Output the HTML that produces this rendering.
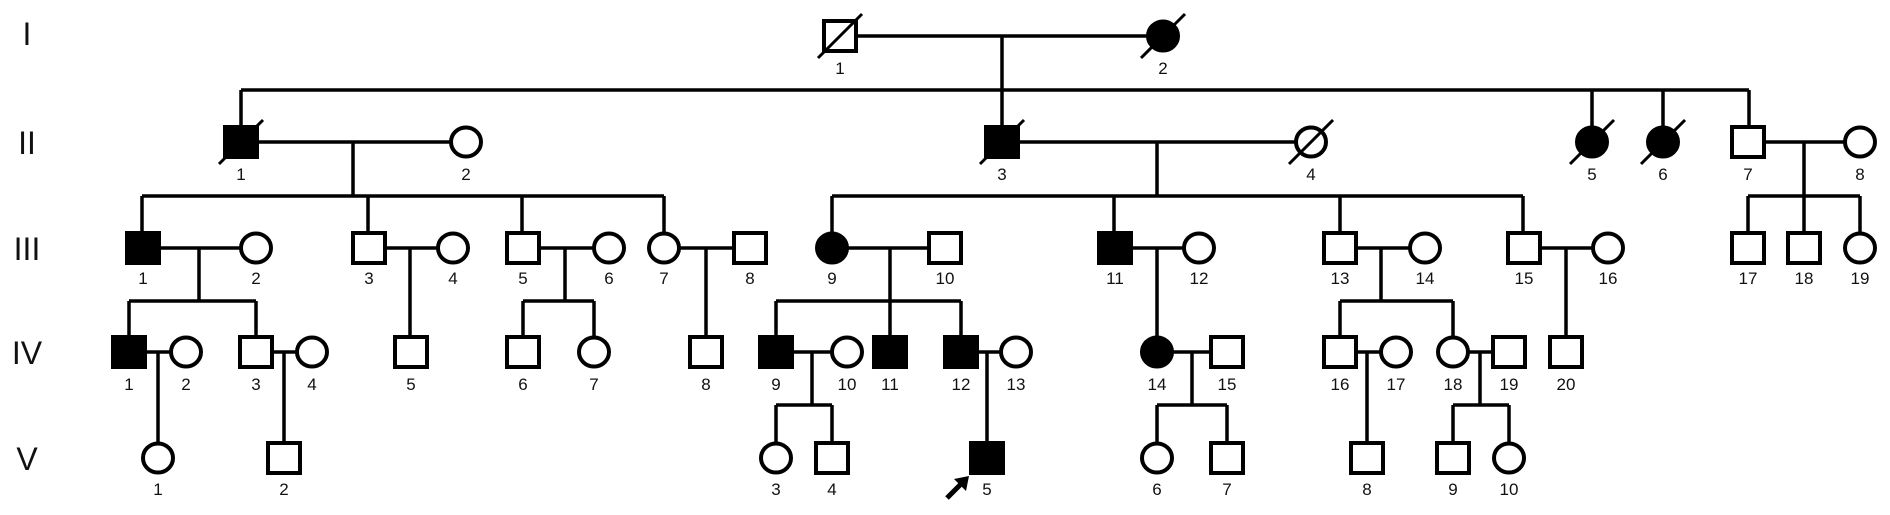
<!DOCTYPE html>
<html><head><meta charset="utf-8"><style>
html,body{margin:0;padding:0;background:#fff}
svg{display:block}
text{font-family:"Liberation Sans",Arial,sans-serif;fill:#111}
.n{font-size:17px;text-anchor:middle}
.g{font-size:32px;text-anchor:middle}
</style></head><body>
<svg width="1890" height="515" viewBox="0 0 1890 515" xmlns="http://www.w3.org/2000/svg">
<g stroke="#000" stroke-width="3.5" fill="none">
<line x1="840" y1="36" x2="1163" y2="36"/>
<line x1="1002" y1="36" x2="1002" y2="142"/>
<line x1="241" y1="90" x2="1749" y2="90"/>
<line x1="241" y1="90" x2="241" y2="142"/>
<line x1="1592" y1="90" x2="1592" y2="142"/>
<line x1="1663" y1="90" x2="1663" y2="142"/>
<line x1="1749" y1="90" x2="1749" y2="142"/>
<line x1="241" y1="142" x2="466" y2="142"/>
<line x1="353" y1="142" x2="353" y2="196"/>
<line x1="1002" y1="142" x2="1311" y2="142"/>
<line x1="1157" y1="142" x2="1157" y2="196"/>
<line x1="1748" y1="142" x2="1860" y2="142"/>
<line x1="1804" y1="142" x2="1804" y2="196"/>
<line x1="142" y1="196" x2="664" y2="196"/>
<line x1="142" y1="196" x2="142" y2="248"/>
<line x1="368" y1="196" x2="368" y2="248"/>
<line x1="522" y1="196" x2="522" y2="248"/>
<line x1="664" y1="196" x2="664" y2="248"/>
<line x1="832" y1="196" x2="1523" y2="196"/>
<line x1="832" y1="196" x2="832" y2="248"/>
<line x1="1114" y1="196" x2="1114" y2="248"/>
<line x1="1340" y1="196" x2="1340" y2="248"/>
<line x1="1523" y1="196" x2="1523" y2="248"/>
<line x1="1748" y1="196" x2="1860" y2="196"/>
<line x1="1748" y1="196" x2="1748" y2="248"/>
<line x1="1804" y1="196" x2="1804" y2="248"/>
<line x1="1860" y1="196" x2="1860" y2="248"/>
<line x1="143" y1="248" x2="256" y2="248"/>
<line x1="199" y1="248" x2="199" y2="301"/>
<line x1="369" y1="248" x2="453" y2="248"/>
<line x1="410" y1="248" x2="410" y2="352"/>
<line x1="523" y1="248" x2="609" y2="248"/>
<line x1="565" y1="248" x2="565" y2="301"/>
<line x1="664" y1="248" x2="750" y2="248"/>
<line x1="706" y1="248" x2="706" y2="352"/>
<line x1="832" y1="248" x2="945" y2="248"/>
<line x1="890" y1="248" x2="890" y2="301"/>
<line x1="1115" y1="248" x2="1199" y2="248"/>
<line x1="1157" y1="248" x2="1157" y2="352"/>
<line x1="1340" y1="248" x2="1425" y2="248"/>
<line x1="1381" y1="248" x2="1381" y2="301"/>
<line x1="1524" y1="248" x2="1608" y2="248"/>
<line x1="1566" y1="248" x2="1566" y2="352"/>
<line x1="129" y1="301" x2="256" y2="301"/>
<line x1="129" y1="301" x2="129" y2="352"/>
<line x1="256" y1="301" x2="256" y2="352"/>
<line x1="523" y1="301" x2="594" y2="301"/>
<line x1="523" y1="301" x2="523" y2="352"/>
<line x1="594" y1="301" x2="594" y2="352"/>
<line x1="776" y1="301" x2="961" y2="301"/>
<line x1="776" y1="301" x2="776" y2="352"/>
<line x1="890" y1="301" x2="890" y2="352"/>
<line x1="961" y1="301" x2="961" y2="352"/>
<line x1="1340" y1="301" x2="1453" y2="301"/>
<line x1="1340" y1="301" x2="1340" y2="352"/>
<line x1="1453" y1="301" x2="1453" y2="352"/>
<line x1="129" y1="352" x2="186" y2="352"/>
<line x1="158" y1="352" x2="158" y2="458"/>
<line x1="256" y1="352" x2="312" y2="352"/>
<line x1="284" y1="352" x2="284" y2="458"/>
<line x1="776" y1="352" x2="847" y2="352"/>
<line x1="812" y1="352" x2="812" y2="405"/>
<line x1="961" y1="352" x2="1016" y2="352"/>
<line x1="987" y1="352" x2="987" y2="458"/>
<line x1="1157" y1="352" x2="1227" y2="352"/>
<line x1="1192" y1="352" x2="1192" y2="405"/>
<line x1="1340" y1="352" x2="1396" y2="352"/>
<line x1="1367" y1="352" x2="1367" y2="458"/>
<line x1="1453" y1="352" x2="1509" y2="352"/>
<line x1="1480" y1="352" x2="1480" y2="405"/>
<line x1="776" y1="405" x2="832" y2="405"/>
<line x1="776" y1="405" x2="776" y2="458"/>
<line x1="832" y1="405" x2="832" y2="458"/>
<line x1="1157" y1="405" x2="1227" y2="405"/>
<line x1="1157" y1="405" x2="1157" y2="458"/>
<line x1="1227" y1="405" x2="1227" y2="458"/>
<line x1="1453" y1="405" x2="1509" y2="405"/>
<line x1="1453" y1="405" x2="1453" y2="458"/>
<line x1="1509" y1="405" x2="1509" y2="458"/>
</g>
<g stroke="#000" stroke-width="4" fill="#fff">
<rect x="824" y="21" width="32" height="30"/>
<ellipse cx="1163" cy="36" rx="15" ry="14.5" fill="#000"/>
<rect x="225" y="127" width="32" height="30" fill="#000"/>
<ellipse cx="466" cy="142" rx="15" ry="14.5"/>
<rect x="986" y="127" width="32" height="30" fill="#000"/>
<ellipse cx="1311" cy="142" rx="15" ry="14.5"/>
<ellipse cx="1592" cy="142" rx="15" ry="14.5" fill="#000"/>
<ellipse cx="1663" cy="142" rx="15" ry="14.5" fill="#000"/>
<rect x="1732" y="127" width="32" height="30"/>
<ellipse cx="1860" cy="142" rx="15" ry="14.5"/>
<rect x="127" y="233" width="32" height="30" fill="#000"/>
<ellipse cx="256" cy="248" rx="15" ry="14.5"/>
<rect x="353" y="233" width="32" height="30"/>
<ellipse cx="453" cy="248" rx="15" ry="14.5"/>
<rect x="507" y="233" width="32" height="30"/>
<ellipse cx="609" cy="248" rx="15" ry="14.5"/>
<ellipse cx="664" cy="248" rx="15" ry="14.5"/>
<rect x="734" y="233" width="32" height="30"/>
<ellipse cx="832" cy="248" rx="15" ry="14.5" fill="#000"/>
<rect x="929" y="233" width="32" height="30"/>
<rect x="1099" y="233" width="32" height="30" fill="#000"/>
<ellipse cx="1199" cy="248" rx="15" ry="14.5"/>
<rect x="1324" y="233" width="32" height="30"/>
<ellipse cx="1425" cy="248" rx="15" ry="14.5"/>
<rect x="1508" y="233" width="32" height="30"/>
<ellipse cx="1608" cy="248" rx="15" ry="14.5"/>
<rect x="1732" y="233" width="32" height="30"/>
<rect x="1788" y="233" width="32" height="30"/>
<ellipse cx="1860" cy="248" rx="15" ry="14.5"/>
<rect x="113" y="337" width="32" height="30" fill="#000"/>
<ellipse cx="186" cy="352" rx="15" ry="14.5"/>
<rect x="240" y="337" width="32" height="30"/>
<ellipse cx="312" cy="352" rx="15" ry="14.5"/>
<rect x="395" y="337" width="32" height="30"/>
<rect x="507" y="337" width="32" height="30"/>
<ellipse cx="594" cy="352" rx="15" ry="14.5"/>
<rect x="690" y="337" width="32" height="30"/>
<rect x="760" y="337" width="32" height="30" fill="#000"/>
<ellipse cx="847" cy="352" rx="15" ry="14.5"/>
<rect x="874" y="337" width="32" height="30" fill="#000"/>
<rect x="945" y="337" width="32" height="30" fill="#000"/>
<ellipse cx="1016" cy="352" rx="15" ry="14.5"/>
<ellipse cx="1157" cy="352" rx="15" ry="14.5" fill="#000"/>
<rect x="1211" y="337" width="32" height="30"/>
<rect x="1324" y="337" width="32" height="30"/>
<ellipse cx="1396" cy="352" rx="15" ry="14.5"/>
<ellipse cx="1453" cy="352" rx="15" ry="14.5"/>
<rect x="1493" y="337" width="32" height="30"/>
<rect x="1550" y="337" width="32" height="30"/>
<ellipse cx="158" cy="458" rx="15" ry="14.5"/>
<rect x="268" y="443" width="32" height="30"/>
<ellipse cx="776" cy="458" rx="15" ry="14.5"/>
<rect x="816" y="443" width="32" height="30"/>
<rect x="971" y="443" width="32" height="30" fill="#000"/>
<ellipse cx="1157" cy="458" rx="15" ry="14.5"/>
<rect x="1211" y="443" width="32" height="30"/>
<rect x="1351" y="443" width="32" height="30"/>
<rect x="1437" y="443" width="32" height="30"/>
<ellipse cx="1509" cy="458" rx="15" ry="14.5"/>
</g>
<g stroke="#000" stroke-width="3">
<line x1="818" y1="58" x2="862" y2="14"/>
<line x1="1141" y1="58" x2="1185" y2="14"/>
<line x1="219" y1="164" x2="263" y2="120"/>
<line x1="980" y1="164" x2="1024" y2="120"/>
<line x1="1289" y1="164" x2="1333" y2="120"/>
<line x1="1570" y1="164" x2="1614" y2="120"/>
<line x1="1641" y1="164" x2="1685" y2="120"/>
</g>
<line x1="947" y1="498" x2="962" y2="483" stroke="#000" stroke-width="5"/>
<polygon points="969,476 954,479 966,491" fill="#000"/>
<text class="g" x="27" y="45">I</text>
<text class="g" x="27" y="154">II</text>
<text class="g" x="27" y="260">III</text>
<text class="g" x="27" y="364">IV</text>
<text class="g" x="27" y="470">V</text>
<text class="n" x="840" y="74">1</text>
<text class="n" x="1163" y="74">2</text>
<text class="n" x="241" y="180">1</text>
<text class="n" x="466" y="180">2</text>
<text class="n" x="1002" y="180">3</text>
<text class="n" x="1311" y="180">4</text>
<text class="n" x="1592" y="180">5</text>
<text class="n" x="1663" y="180">6</text>
<text class="n" x="1748" y="180">7</text>
<text class="n" x="1860" y="180">8</text>
<text class="n" x="143" y="284">1</text>
<text class="n" x="256" y="284">2</text>
<text class="n" x="369" y="284">3</text>
<text class="n" x="453" y="284">4</text>
<text class="n" x="523" y="284">5</text>
<text class="n" x="609" y="284">6</text>
<text class="n" x="664" y="284">7</text>
<text class="n" x="750" y="284">8</text>
<text class="n" x="832" y="284">9</text>
<text class="n" x="945" y="284">10</text>
<text class="n" x="1115" y="284">11</text>
<text class="n" x="1199" y="284">12</text>
<text class="n" x="1340" y="284">13</text>
<text class="n" x="1425" y="284">14</text>
<text class="n" x="1524" y="284">15</text>
<text class="n" x="1608" y="284">16</text>
<text class="n" x="1748" y="284">17</text>
<text class="n" x="1804" y="284">18</text>
<text class="n" x="1860" y="284">19</text>
<text class="n" x="129" y="390">1</text>
<text class="n" x="186" y="390">2</text>
<text class="n" x="256" y="390">3</text>
<text class="n" x="312" y="390">4</text>
<text class="n" x="411" y="390">5</text>
<text class="n" x="523" y="390">6</text>
<text class="n" x="594" y="390">7</text>
<text class="n" x="706" y="390">8</text>
<text class="n" x="776" y="390">9</text>
<text class="n" x="847" y="390">10</text>
<text class="n" x="890" y="390">11</text>
<text class="n" x="961" y="390">12</text>
<text class="n" x="1016" y="390">13</text>
<text class="n" x="1157" y="390">14</text>
<text class="n" x="1227" y="390">15</text>
<text class="n" x="1340" y="390">16</text>
<text class="n" x="1396" y="390">17</text>
<text class="n" x="1453" y="390">18</text>
<text class="n" x="1509" y="390">19</text>
<text class="n" x="1566" y="390">20</text>
<text class="n" x="158" y="495">1</text>
<text class="n" x="284" y="495">2</text>
<text class="n" x="776" y="495">3</text>
<text class="n" x="832" y="495">4</text>
<text class="n" x="987" y="495">5</text>
<text class="n" x="1157" y="495">6</text>
<text class="n" x="1227" y="495">7</text>
<text class="n" x="1367" y="495">8</text>
<text class="n" x="1453" y="495">9</text>
<text class="n" x="1509" y="495">10</text>
</svg>
</body></html>
